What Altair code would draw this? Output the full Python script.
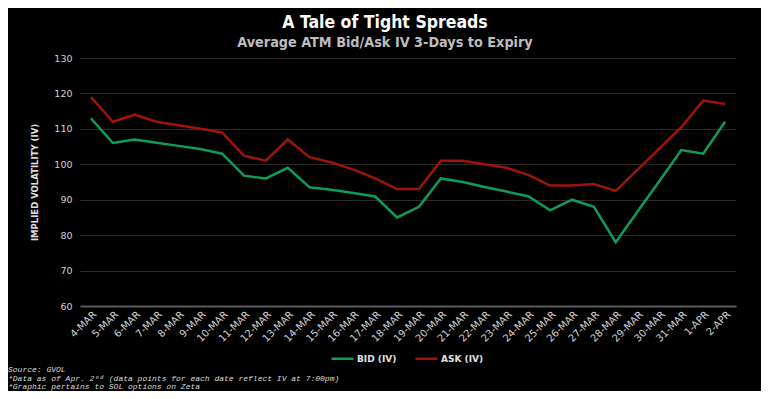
import altair as alt
import pandas as pd

dates = ["4-Mar", "5-Mar", "6-Mar", "7-Mar", "8-Mar", "9-Mar", "10-Mar", "11-Mar",
         "12-Mar", "13-Mar", "14-Mar", "15-Mar", "16-Mar", "17-Mar", "18-Mar", "19-Mar",
         "20-Mar", "21-Mar", "22-Mar", "23-Mar", "24-Mar", "25-Mar", "26-Mar", "27-Mar",
         "28-Mar", "29-Mar", "30-Mar", "31-Mar", "1-Apr", "2-Apr"]
bid = [113, 106, 107, 106.1, 105.2, 104.3, 103, 96.8, 96, 99, 93.5, 92.8, 91.9, 90.9,
       85, 88, 96, 95, 93.6, 92.3, 91, 87, 90, 88, 78, 86.7, 95.3, 104, 103, 112]
ask = [119, 112, 114, 112, 111, 110, 109, 102.4, 101, 107, 102, 100.5, 98.5, 96,
       93, 93, 101, 101, 100, 99, 97, 94, 94, 94.4, 92.5, 98.5, 104.5, 110.5, 118, 117]
series = ["Bid (IV)", "Ask (IV)"]
colors = ["#0e9c58", "#a01408"]
yticks = [60, 70, 80, 90, 100, 110, 120, 130]
notes = ["Source: GVOL",
         "*Data as of Apr. 2\u207f\u1d48 (data points for each date reflect IV at 7:00pm)",
         "*Graphic pertains to SOL options on Zeta"]

df = pd.concat([
    pd.DataFrame({"date": dates, "value": bid, "series": series[0]}),
    pd.DataFrame({"date": dates, "value": ask, "series": series[1]}),
])
notes_df = pd.DataFrame({"note": notes, "row": list(range(len(notes)))})

lines = alt.Chart(df).mark_line(strokeWidth=2.5).encode(
    x=alt.X("date:N", sort=dates, title=None,
            scale=alt.Scale(type="point", padding=0.5),
            axis=alt.Axis(labelAngle=-45, labelExpr="upper(datum.label)",
                          labelFont="DejaVu Sans", labelFontSize=10, labelColor="#d0d0d0",
                          labelPadding=3, ticks=False, grid=False,
                          domainColor="#5a5a5a", domainWidth=2)),
    y=alt.Y("value:Q", title="IMPLIED VOLATILITY (IV)",
            scale=alt.Scale(domain=[60, 130], nice=False, zero=False),
            axis=alt.Axis(values=yticks, domain=False, ticks=False, labelPadding=8,
                          labelFont="DejaVu Sans", labelFontSize=9.5, labelColor="#d0d0d0",
                          gridColor="#2a2a2a", gridWidth=1,
                          titleFont="DejaVu Sans", titleFontSize=8.5, titleFontWeight="bold",
                          titleColor="#e0e0e0", titlePadding=14)),
    color=alt.Color("series:N", sort=series,
                    scale=alt.Scale(domain=series, range=colors),
                    legend=alt.Legend(orient="none", direction="horizontal", title=None,
                                      legendX=250, legendY=288,
                                      symbolType="stroke", symbolSize=484,
                                      symbolStrokeWidth=2.5, labelOffset=2,
                                      columnPadding=13,
                                      labelExpr="upper(datum.label)",
                                      labelFont="DejaVu Sans", labelFontSize=9,
                                      labelFontWeight="bold", labelColor="#e0e0e0")),
)

foot = alt.Chart(notes_df).mark_text(
    align="left", baseline="middle", font="Liberation Mono, DejaVu Sans Mono",
    fontStyle="italic", fontSize=8, color="#dddddd"
).encode(
    x=alt.value(-72),
    y=alt.Y("row:Q", axis=None, scale=alt.Scale(domain=[0, 2], range=[312, 329])),
    text="note:N",
)

chart = alt.layer(lines, foot).resolve_scale(y="independent").properties(
    width=656, height=248,
    autosize=alt.AutoSizeParams(type="none"),
    padding={"left": 72, "top": 50, "right": 25, "bottom": 85},
    background="black",
    title=alt.Title("A Tale of Tight Spreads",
                    subtitle="Average ATM Bid/Ask IV 3-Days to Expiry",
                    anchor="middle", frame="group", dx=-23, offset=3,
                    font="Liberation Sans Narrow, DejaVu Sans Condensed", fontSize=17.5,
                    fontWeight="bold", color="#ffffff",
                    subtitleFont="Liberation Sans Narrow, DejaVu Sans Condensed",
                    subtitleFontSize=14.3, subtitleFontWeight="bold",
                    subtitleColor="#bdbdbd", subtitlePadding=4),
).configure_view(stroke=None)

chart.save("out.html", embed_options={"renderer": "svg", "actions": False})
